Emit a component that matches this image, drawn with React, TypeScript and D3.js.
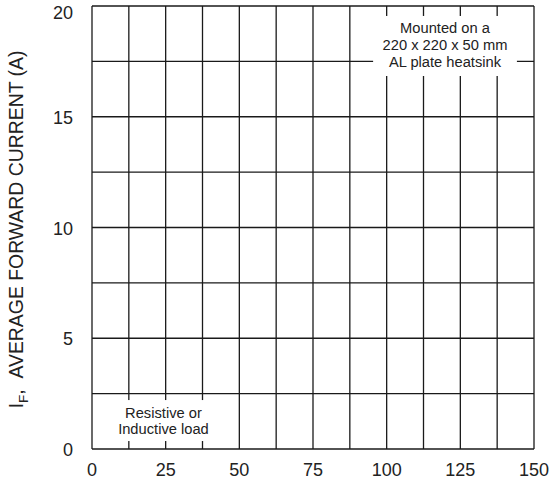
import React from "react";
import * as d3 from "d3";

const xTicks = [0, 25, 50, 75, 100, 125, 150];
const yTicks = [0, 5, 10, 15, 20];
const xGrid = [0, 12.5, 25, 37.5, 50, 62.5, 75, 87.5, 100, 112.5, 125, 137.5, 150];
const yGrid = [0, 2.5, 5, 7.5, 10, 12.5, 15, 17.5, 20];
const noteTop = ["Mounted on a", "220 x 220 x 50 mm", "AL plate heatsink"];
const noteBottom = ["Resistive or", "Inductive load"];

const W = 549;
const H = 484;
const M = { left: 92, right: 15, top: 6, bottom: 35 };

export default function App() {
  const x = d3.scaleLinear().domain([0, 150]).range([M.left, W - M.right]);
  const y = d3.scaleLinear().domain([0, 20]).range([H - M.bottom, M.top]);
  const font = "Arial, 'Liberation Sans', Helvetica, sans-serif";
  const stroke = "#1a1a1a";
  const sw = 1.3;

  // note boxes (in data coordinates)
  const topBox = { x0: 95.4, x1: 144.2, y0: 16.84, y1: 19.55 };
  const botBox = { x0: 4.4, x1: 44.1, y0: 0.36, y1: 2.21 };
  const topCx = x((topBox.x0 + topBox.x1) / 2);
  const botCx = x((botBox.x0 + botBox.x1) / 2);

  return (
    <div style={{ position: "fixed", left: 0, top: 0 }}>
      <svg width={W} height={H} style={{ display: "block", background: "#fff" }}>
        <g stroke={stroke} strokeWidth={sw} fill="none">
          {xGrid.map((v) => (
            <line key={"vx" + v} x1={x(v)} x2={x(v)} y1={y(0)} y2={y(20)} />
          ))}
          {yGrid.map((v) => (
            <line key={"hy" + v} x1={x(0)} x2={x(150)} y1={y(v)} y2={y(v)} />
          ))}
        </g>
        <rect
          x={x(topBox.x0)}
          y={y(topBox.y1)}
          width={x(topBox.x1) - x(topBox.x0)}
          height={y(topBox.y0) - y(topBox.y1)}
          fill="#fff"
        />
        <rect
          x={x(botBox.x0)}
          y={y(botBox.y1)}
          width={x(botBox.x1) - x(botBox.x0)}
          height={y(botBox.y0) - y(botBox.y1)}
          fill="#fff"
        />
        <g fontFamily={font} fontSize={14.7} fill="#222" textAnchor="middle">
          {noteTop.map((t, i) => (
            <text key={t} x={topCx} y={y(topBox.y1) + 17 + i * 17}>
              {t}
            </text>
          ))}
          {noteBottom.map((t, i) => (
            <text key={t} x={botCx} y={y(botBox.y1) + 18 + i * 16}>
              {t}
            </text>
          ))}
        </g>
        <g fontFamily={font} fontSize={18} fill="#222">
          {yTicks.map((v) => (
            <text
              key={"yt" + v}
              x={x(0) - 19}
              y={Math.max(y(v), 12) + 1}
              textAnchor="end"
              dominantBaseline="central"
            >
              {v}
            </text>
          ))}
          {xTicks.map((v) => (
            <text key={"xt" + v} x={x(v)} y={476} textAnchor="middle">
              {v}
            </text>
          ))}
        </g>
        <text
          transform={`translate(23, 229.5) rotate(-90)`}
          fontFamily={font}
          fontSize={19.4}
          fill="#222"
          textAnchor="middle"
        >
          <tspan>I</tspan>
          <tspan fontSize={13.6} dy={5}>F</tspan>
          <tspan dy={-5}>{",\u00a0\u00a0AVERAGE FORWARD CURRENT (A)"}</tspan>
        </text>
      </svg>
    </div>
  );
}
